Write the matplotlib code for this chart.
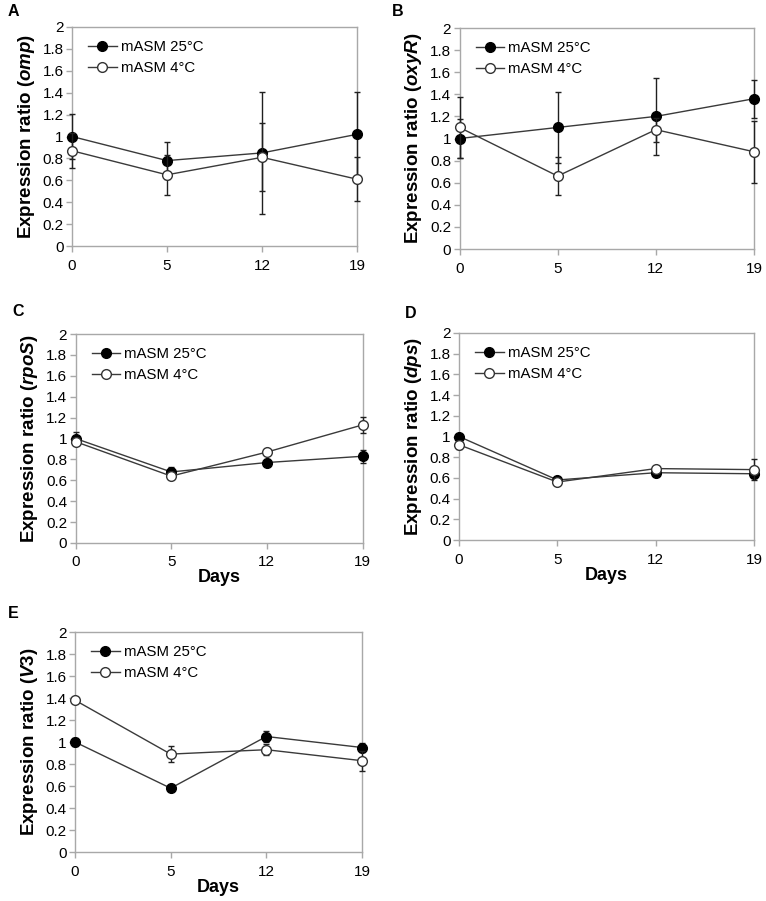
import matplotlib
matplotlib.use("Agg")
import matplotlib.pyplot as plt
from matplotlib.lines import Line2D
import numpy as np

plt.rcParams['font.family'] = ['Liberation Sans', 'DejaVu Sans']
plt.rcParams['mathtext.fontset'] = 'custom'
plt.rcParams['mathtext.it'] = 'Liberation Sans:italic:bold'
plt.rcParams['mathtext.rm'] = 'Liberation Sans:bold'
plt.rcParams['mathtext.bf'] = 'Liberation Sans:bold'

days = ["0", "5", "12", "19"]
series_labels = ["mASM 25°C", "mASM 4°C"]

panel_letters = ["A", "B", "C", "D", "E"]
genes = ["omp", "oxyR", "rpoS", "dps", "V3"]

# values: 25°C, 4°C
omp_25 = [1.00, 0.78, 0.85, 1.02]
omp_25_err = [0.21, 0.17, 0.56, 0.39]
omp_4 = [0.87, 0.65, 0.81, 0.61]
omp_4_err = [0.16, 0.18, 0.31, 0.20]

oxyR_25 = [1.00, 1.10, 1.20, 1.36]
oxyR_25_err = [0.18, 0.32, 0.35, 0.17]
oxyR_4 = [1.10, 0.66, 1.08, 0.88]
oxyR_4_err = [0.28, 0.17, 0.11, 0.28]

rpoS_25 = [1.00, 0.68, 0.77, 0.83]
rpoS_25_err = [0.06, 0.05, 0.03, 0.06]
rpoS_4 = [0.97, 0.64, 0.87, 1.13]
rpoS_4_err = [0.03, 0.03, 0.02, 0.08]

dps_25 = [1.00, 0.58, 0.65, 0.64]
dps_25_err = [0.02, 0.03, 0.02, 0.04]
dps_4 = [0.92, 0.56, 0.69, 0.68]
dps_4_err = [0.04, 0.02, 0.02, 0.10]

V3_25 = [1.00, 0.58, 1.05, 0.95]
V3_25_err = [0.04, 0.01, 0.05, 0.04]
V3_4 = [1.38, 0.89, 0.93, 0.83]
V3_4_err = [0.02, 0.07, 0.05, 0.09]

data = [
    (omp_25, omp_25_err, omp_4, omp_4_err),
    (oxyR_25, oxyR_25_err, oxyR_4, oxyR_4_err),
    (rpoS_25, rpoS_25_err, rpoS_4, rpoS_4_err),
    (dps_25, dps_25_err, dps_4, dps_4_err),
    (V3_25, V3_25_err, V3_4, V3_4_err),
]

W, H = 766, 901
fig = plt.figure(figsize=(W / 100, H / 100), dpi=100)

# axes boxes in pixels: left, top, right, bottom
boxes = [
    (72, 27, 357, 246),
    (459.5, 28, 754, 249),
    (75.5, 334, 362.5, 543),
    (459, 333, 754, 540),
    (75, 632, 362, 852),
]
letter_pos = [(13, 12), (398, 12), (18, 311), (411, 313), (13, 613)]
show_days = [False, False, True, True, True]

spine_col = "#a8a8a8"
line_col = "#3a3a3a"

for i, (box, d) in enumerate(zip(boxes, data)):
    l, t, r, b = box
    ax = fig.add_axes([l / W, 1 - b / H, (r - l) / W, (b - t) / H])
    x = np.arange(len(days))
    y25, e25, y4, e4 = d
    ax.errorbar(x, y25, yerr=e25, color=line_col, lw=1.0, ecolor="#202020",
                elinewidth=1.0, capsize=2.5, capthick=1.0,
                marker="o", markersize=7, markerfacecolor="black",
                markeredgecolor="black", clip_on=False, zorder=3)
    ax.errorbar(x, y4, yerr=e4, color=line_col, lw=1.0, ecolor="#202020",
                elinewidth=1.0, capsize=2.5, capthick=1.0,
                marker="o", markersize=7, markerfacecolor="white",
                markeredgecolor="#333333", markeredgewidth=1.0,
                clip_on=False, zorder=4)
    ax.set_xlim(0, 3)
    ax.set_ylim(0, 2)
    ax.set_xticks(x)
    ax.set_xticklabels(days, fontsize=11)
    yt = np.round(np.arange(0, 2.01, 0.2), 1)
    ax.set_yticks(yt)
    ax.set_yticklabels(["0" if v == 0 else ("1" if v == 1 else ("2" if v == 2 else f"{v:.1f}")) for v in yt],
                       fontsize=11)
    for s in ax.spines.values():
        s.set_color(spine_col)
        s.set_linewidth(1.0)
    ax.tick_params(axis="both", direction="out", length=4, width=1.0, color=spine_col,
                   labelcolor="black", pad=2)
    ax.tick_params(axis="x", pad=5)
    ax.set_ylabel("Expression ratio ($\\it{" + genes[i] + "}$)", fontsize=13.5,
                  fontweight="bold", labelpad=4)
    if show_days[i]:
        ax.set_xlabel("Days", fontsize=13, fontweight="bold", labelpad=0)
    hh = b - t
    ww = r - l
    handles = [
        Line2D([], [], color=line_col, lw=1.0, marker="o", markersize=7,
               markerfacecolor="black", markeredgecolor="black"),
        Line2D([], [], color=line_col, lw=1.0, marker="o", markersize=7,
               markerfacecolor="white", markeredgecolor="#333333"),
    ]
    ax.legend(handles, series_labels, loc="upper left", bbox_to_anchor=(16 / ww, 1 - 13 / hh),
              frameon=False, fontsize=10.8, handlelength=1.9, handletextpad=0.3,
              labelspacing=0.45, borderpad=0, borderaxespad=0)
    lx, ly = letter_pos[i]
    fig.text(lx / W, 1 - ly / H, panel_letters[i], fontsize=11.5, fontweight="bold",
             ha="center", va="center")

fig.savefig("out.png", dpi=100)
